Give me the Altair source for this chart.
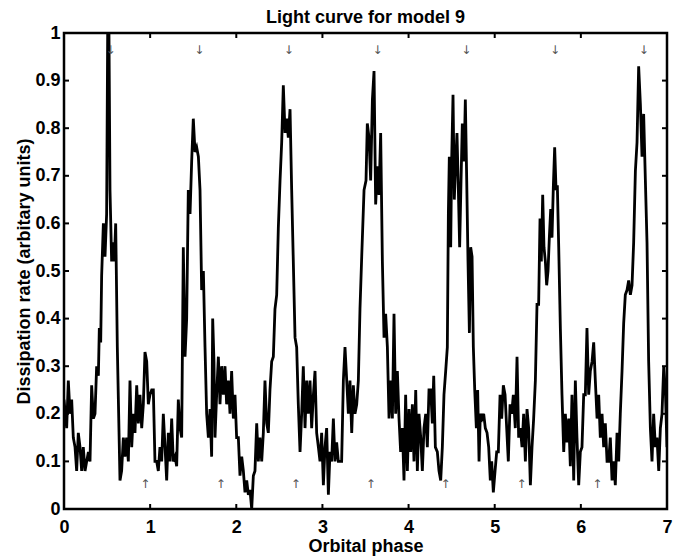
import altair as alt
import pandas as pd

phase = [
    0.000, 0.031, 0.050, 0.070, 0.089, 0.108, 0.128, 0.147, 0.166, 0.186,
    0.205, 0.224, 0.244, 0.263, 0.283, 0.302, 0.321, 0.341, 0.360, 0.379,
    0.399, 0.410, 0.426, 0.437, 0.457, 0.476, 0.495, 0.507, 0.522, 0.534,
    0.553, 0.573, 0.584, 0.600, 0.619, 0.650, 0.669, 0.689, 0.708, 0.727,
    0.747, 0.766, 0.786, 0.805, 0.824, 0.844, 0.863, 0.882, 0.902, 0.921,
    0.940, 0.960, 0.979, 0.998, 1.018, 1.037, 1.056, 1.076, 1.095, 1.114,
    1.134, 1.153, 1.173, 1.192, 1.211, 1.231, 1.250, 1.269, 1.289, 1.308,
    1.327, 1.347, 1.366, 1.385, 1.405, 1.424, 1.443, 1.463, 1.482, 1.501,
    1.521, 1.540, 1.560, 1.579, 1.598, 1.618, 1.637, 1.656, 1.676, 1.695,
    1.714, 1.726, 1.741,
    1.753, 1.772, 1.792, 1.811, 1.830, 1.850, 1.869, 1.888, 1.908, 1.927,
    1.946, 1.966, 1.985, 2.004, 2.024, 2.043, 2.063, 2.082, 2.101, 2.121,
    2.140, 2.159, 2.179, 2.198, 2.217, 2.237, 2.256, 2.275, 2.295, 2.314,
    2.333, 2.353, 2.372, 2.391, 2.411, 2.430, 2.449, 2.469, 2.488, 2.508,
    2.527, 2.546, 2.566, 2.585, 2.604, 2.624, 2.643, 2.662, 2.682, 2.701,
    2.720, 2.740, 2.759, 2.778, 2.798, 2.817, 2.836, 2.856, 2.875, 2.895,
    2.914, 2.933, 2.953, 2.972, 2.991, 3.011, 3.030, 3.049, 3.069, 3.088,
    3.107, 3.127, 3.146, 3.165, 3.185, 3.204, 3.223, 3.243, 3.262, 3.282,
    3.301, 3.320, 3.340, 3.359, 3.378, 3.398, 3.417, 3.436, 3.456,
    3.483, 3.506, 3.521, 3.541, 3.560, 3.580, 3.599, 3.618, 3.638, 3.657,
    3.676, 3.696, 3.715, 3.734, 3.754, 3.773, 3.792, 3.812, 3.831, 3.850,
    3.870, 3.889, 3.908, 3.928, 3.947, 3.966, 3.986, 4.005, 4.025, 4.044,
    4.063, 4.083, 4.102, 4.121, 4.141, 4.160, 4.179, 4.199, 4.218, 4.237,
    4.257, 4.276, 4.292, 4.311, 4.334, 4.353, 4.373, 4.392, 4.411, 4.431,
    4.450, 4.462, 4.473, 4.489, 4.500, 4.516, 4.531, 4.547, 4.562, 4.578,
    4.593, 4.609, 4.624, 4.644, 4.659, 4.675, 4.690, 4.706, 4.721, 4.737,
    4.752, 4.768, 4.787, 4.802, 4.818, 4.833, 4.853, 4.872, 4.891, 4.911,
    4.930, 4.949, 4.965, 4.984, 5.004, 5.023, 5.042, 5.062, 5.081, 5.100,
    5.120, 5.139, 5.158, 5.178, 5.197, 5.216,
    5.239, 5.259, 5.278, 5.298, 5.317, 5.336, 5.356, 5.375, 5.394, 5.414,
    5.433, 5.452, 5.472, 5.491, 5.510, 5.526, 5.541, 5.557, 5.572, 5.588,
    5.603, 5.619, 5.634, 5.650, 5.665, 5.681, 5.696, 5.712, 5.727, 5.743,
    5.762, 5.781, 5.801, 5.820, 5.839, 5.859, 5.878, 5.897, 5.917, 5.936,
    5.955, 5.975, 5.994, 6.013, 6.033, 6.052, 6.071, 6.091, 6.110, 6.130,
    6.149, 6.168, 6.188, 6.207, 6.226, 6.246, 6.265, 6.284, 6.304, 6.323,
    6.342, 6.362, 6.381, 6.400, 6.420, 6.439, 6.458, 6.478, 6.497, 6.516,
    6.536, 6.555, 6.575, 6.594, 6.613, 6.633, 6.652, 6.671, 6.691, 6.710,
    6.729, 6.749, 6.768, 6.787, 6.807, 6.826, 6.845, 6.865, 6.884, 6.904,
    6.923, 6.942, 6.962, 6.981, 7.000,
]

dissipation = [
    0.23, 0.17, 0.27, 0.20, 0.23, 0.15, 0.13, 0.08, 0.16, 0.13,
    0.08, 0.13, 0.08, 0.10, 0.12, 0.10, 0.26, 0.19, 0.20, 0.30,
    0.28, 0.38, 0.35, 0.49, 0.60, 0.53, 0.62, 1.00, 1.00, 0.67,
    0.52, 0.56, 0.52, 0.60, 0.34, 0.06, 0.08, 0.15, 0.11, 0.15,
    0.10, 0.27, 0.13, 0.20, 0.16, 0.26, 0.18, 0.24, 0.17, 0.22,
    0.33, 0.31, 0.22, 0.24, 0.25, 0.25, 0.10, 0.10, 0.08, 0.13,
    0.10, 0.20, 0.13, 0.06, 0.16, 0.10, 0.19, 0.10, 0.11, 0.09,
    0.23, 0.17, 0.15, 0.55, 0.32, 0.40, 0.67, 0.62, 0.73, 0.82,
    0.75, 0.76, 0.74, 0.67, 0.46, 0.50, 0.34, 0.20, 0.15, 0.21,
    0.11, 0.40, 0.31,
    0.15, 0.24, 0.32, 0.22, 0.30, 0.24, 0.30, 0.22, 0.27, 0.20,
    0.29, 0.19, 0.24, 0.15, 0.15, 0.07, 0.11, 0.08, 0.035, 0.06,
    0.03, 0.04, 0.00, 0.07, 0.08, 0.18, 0.10, 0.15, 0.10, 0.16,
    0.27, 0.18, 0.16, 0.25, 0.31, 0.32, 0.42, 0.45, 0.59, 0.69,
    0.77, 0.89, 0.79, 0.82, 0.78, 0.84, 0.67, 0.52, 0.36, 0.34,
    0.22, 0.12, 0.20, 0.30, 0.17, 0.27, 0.20, 0.27, 0.17, 0.24,
    0.29, 0.16, 0.13, 0.10, 0.16, 0.05, 0.13, 0.17, 0.03, 0.12,
    0.10, 0.19, 0.10, 0.14, 0.10, 0.10, 0.10, 0.27, 0.34, 0.27,
    0.20, 0.27, 0.16, 0.26, 0.20, 0.22, 0.27, 0.42, 0.53,
    0.67, 0.69, 0.81, 0.78, 0.69, 0.86, 0.92, 0.64, 0.72, 0.66,
    0.79, 0.52, 0.36, 0.41, 0.34, 0.19, 0.27, 0.19, 0.41, 0.20,
    0.29, 0.19, 0.12, 0.17, 0.06, 0.24, 0.08, 0.21, 0.12, 0.22,
    0.10, 0.25, 0.08, 0.20, 0.15, 0.08, 0.17, 0.20, 0.13, 0.25,
    0.25, 0.18, 0.28, 0.13, 0.12, 0.08, 0.06, 0.13, 0.24, 0.29,
    0.34, 0.62, 0.74, 0.55, 0.73, 0.87, 0.65, 0.73, 0.79, 0.67,
    0.55, 0.69, 0.81, 0.73, 0.86, 0.69, 0.52, 0.37, 0.55, 0.53,
    0.34, 0.25, 0.17, 0.25, 0.10, 0.20, 0.19, 0.20, 0.17, 0.16,
    0.13, 0.06, 0.10, 0.035, 0.08, 0.12, 0.12, 0.24, 0.19, 0.26,
    0.24, 0.17, 0.10, 0.22, 0.20, 0.24,
    0.17, 0.32, 0.15, 0.17, 0.13, 0.20, 0.10, 0.21, 0.17, 0.05,
    0.13, 0.19, 0.27, 0.43, 0.43, 0.61, 0.52, 0.66, 0.55, 0.52,
    0.47, 0.50, 0.57, 0.63, 0.57, 0.68, 0.76, 0.67, 0.68, 0.55,
    0.38, 0.24, 0.12, 0.20, 0.14, 0.19, 0.09, 0.24, 0.06, 0.27,
    0.15, 0.05, 0.12, 0.13, 0.24, 0.24, 0.38, 0.24, 0.29, 0.31,
    0.35, 0.27, 0.19, 0.24, 0.15, 0.20, 0.13, 0.18, 0.10, 0.10,
    0.15, 0.06, 0.10, 0.05, 0.16, 0.10, 0.20, 0.29, 0.39, 0.45,
    0.46, 0.48, 0.45, 0.47, 0.56, 0.71, 0.77, 0.93, 0.85, 0.74,
    0.83, 0.69, 0.56, 0.31, 0.17, 0.10, 0.20, 0.13, 0.15, 0.08,
    0.17, 0.20, 0.30, 0.25, 0.13,
]

# arrow markers (phases) and their heights
down_phase = [0.54, 1.57, 2.61, 3.64, 4.67, 5.70, 6.73]
up_phase = [0.944, 1.82, 2.69, 3.56, 4.43, 5.31, 6.19]
down_level = 0.965
up_level = 0.052

x_ticks = [1, 2, 3, 4, 5, 6]
y_ticks = [0.1, 0.2, 0.3, 0.4, 0.5, 0.6, 0.7, 0.8, 0.9]
x_labels = [0, 1, 2, 3, 4, 5, 6, 7]
y_labels = [0, 0.1, 0.2, 0.3, 0.4, 0.5, 0.6, 0.7, 0.8, 0.9, 1]

W, H = 603, 476
FONT = "Liberation Sans"

curve = pd.DataFrame({"phase": phase, "rate": dissipation})
downs = pd.DataFrame({"phase": down_phase, "rate": [down_level] * len(down_phase)})
ups = pd.DataFrame({"phase": up_phase, "rate": [up_level] * len(up_phase)})
xt = pd.DataFrame({"phase": x_ticks})
yt = pd.DataFrame({"rate": y_ticks})

xscale = alt.Scale(domain=[0, 7], nice=False, zero=False)
yscale = alt.Scale(domain=[0, 1], nice=False, zero=False)
xaxis = alt.Axis(title="Orbital phase", values=x_labels, format="d",
                 labelPadding=9, titlePadding=1, labelFlush=False)
yaxis = alt.Axis(title="Dissipation rate (arbitary units)", values=y_labels,
                 format=".1~f", labelPadding=4, titlePadding=1)

X = alt.X("phase:Q", scale=xscale, axis=xaxis)
Y = alt.Y("rate:Q", scale=yscale, axis=yaxis)

line = alt.Chart(curve).mark_line(color="black", strokeWidth=2.8, clip=True).encode(x=X, y=Y)

arrow_down = alt.Chart(downs).mark_text(text="↓", font="DejaVu Sans", fontSize=12,
                                        color="#555555").encode(x=X, y=Y)
arrow_up = alt.Chart(ups).mark_text(text="↑", font="DejaVu Sans", fontSize=12,
                                    color="#555555").encode(x=X, y=Y)

tick_style = dict(color="black", strokeWidth=2)
tb = alt.Chart(xt).mark_rule(**tick_style).encode(x=X, y=alt.value(H), y2=alt.value(H - 5))
tt = alt.Chart(xt).mark_rule(**tick_style).encode(x=X, y=alt.value(0), y2=alt.value(5))
tl = alt.Chart(yt).mark_rule(**tick_style).encode(y=Y, x=alt.value(0), x2=alt.value(5))
tr = alt.Chart(yt).mark_rule(**tick_style).encode(y=Y, x=alt.value(W), x2=alt.value(W - 5))

chart = alt.layer(line, arrow_down, arrow_up, tb, tt, tl, tr).properties(
    width=W, height=H,
    title=alt.TitleParams("Light curve for model 9", font=FONT, fontSize=18,
                          fontWeight="bold", color="black", offset=0, dy=3),
    padding={"left": 56, "top": 25, "right": 9, "bottom": 50},
    autosize=alt.AutoSizeParams(type="none"),
    background="white",
).configure_view(
    stroke="black", strokeWidth=2.5
).configure_axis(
    domain=False, ticks=False, grid=False,
    labelFont=FONT, labelFontSize=18, labelFontWeight="bold", labelColor="black",
    titleFont=FONT, titleFontSize=18, titleFontWeight="bold", titleColor="black",
    labelOverlap=False,
)

chart.save("out.html", embed_options={"renderer": "svg", "actions": False})
